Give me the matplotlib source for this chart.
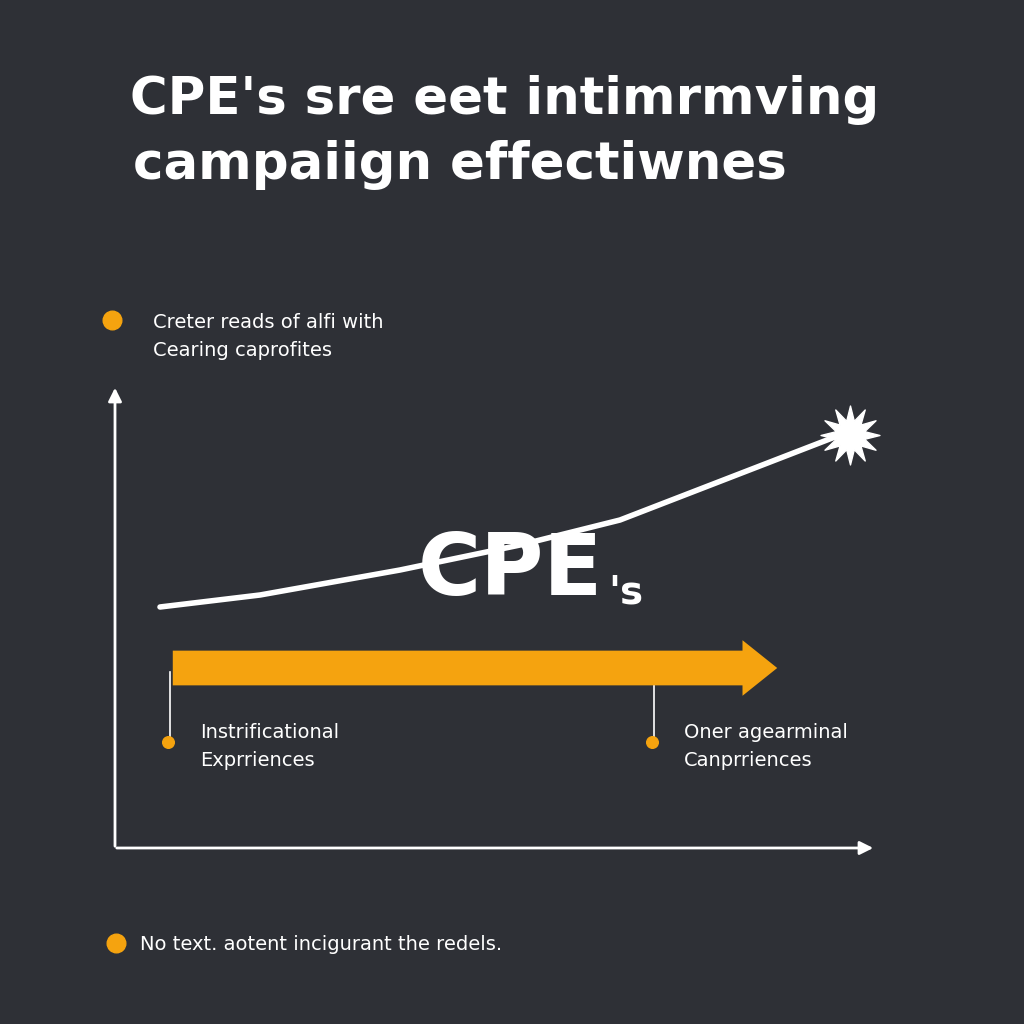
import matplotlib.pyplot as plt

BG = "#2e3036"
ORANGE = "#f5a30f"

title_lines = ["CPE's sre eet intimrmving", "campaiign effectiwnes"]
line_x = [160, 260, 400, 520, 620, 840]
line_y = [607, 595, 570, 545, 520, 435]
arrow_start, arrow_end, arrow_y = 170, 780, 668
milestone_x = [170, 654]
milestone_labels = ["Instrificational\nExprriences", "Oner agearminal\nCanprriences"]
legend_top = "Creter reads of alfi with\nCearing caprofites"
legend_bottom = "No text. aotent incigurant the redels."

fig = plt.figure(figsize=(10.24, 10.24), dpi=100)
fig.patch.set_facecolor(BG)
ax = fig.add_axes([0, 0, 1, 1])
ax.set_facecolor(BG)
ax.set_xlim(0, 1024)
ax.set_ylim(1024, 0)
ax.axis("off")

font = "DejaVu Sans"
ax.text(130, 100, title_lines[0], color="white", fontsize=37, fontweight="bold",
        va="center", ha="left", family=font)
ax.text(133, 165, title_lines[1], color="white", fontsize=37, fontweight="bold",
        va="center", ha="left", family=font)

# top legend
ax.scatter([112], [320], s=180, color=ORANGE, zorder=3)
ax.text(153, 336, legend_top, color="white", fontsize=14, va="center", ha="left",
        linespacing=1.6, family=font)

# axes arrows
ax.annotate("", xy=(115, 385), xytext=(115, 849),
            arrowprops=dict(arrowstyle="-|>", color="white", lw=2, mutation_scale=20))
ax.annotate("", xy=(876, 848), xytext=(114, 848),
            arrowprops=dict(arrowstyle="-|>", color="white", lw=2, mutation_scale=20))

# trend line and star
ax.plot(line_x, line_y, color="white", lw=4, solid_capstyle="round", zorder=3)
ax.scatter([line_x[-1] + 10], [line_y[-1]], marker=(12, 1, 0), s=1800,
           color="white", zorder=4)

ax.text(510, 572, "CPE", color="white", fontsize=62, fontweight="bold",
        va="center", ha="center", family=font, zorder=5)
ax.text(608, 592, "'s", color="white", fontsize=28, fontweight="bold",
        va="center", ha="left", family=font, zorder=5)

# orange arrow
ax.annotate("", xy=(arrow_end, arrow_y), xytext=(arrow_start, arrow_y),
            arrowprops=dict(arrowstyle="simple,head_width=1.6,head_length=1.0,tail_width=1.0",
                            color=ORANGE, lw=0, mutation_scale=25))

for mx, lbl in zip(milestone_x, milestone_labels):
    ax.plot([mx, mx], [672, 738], color="white", lw=1.2)
    ax.scatter([mx - 2], [742], s=70, color=ORANGE, zorder=3)
    ax.text(mx + 30, 746, lbl, color="white", fontsize=14, va="center", ha="left",
            linespacing=1.6, family=font)

ax.scatter([116], [943], s=180, color=ORANGE, zorder=3)
ax.text(140, 944, legend_bottom, color="white", fontsize=14, va="center", ha="left",
        family=font)

fig.savefig("out.png", dpi=100, facecolor=BG)
